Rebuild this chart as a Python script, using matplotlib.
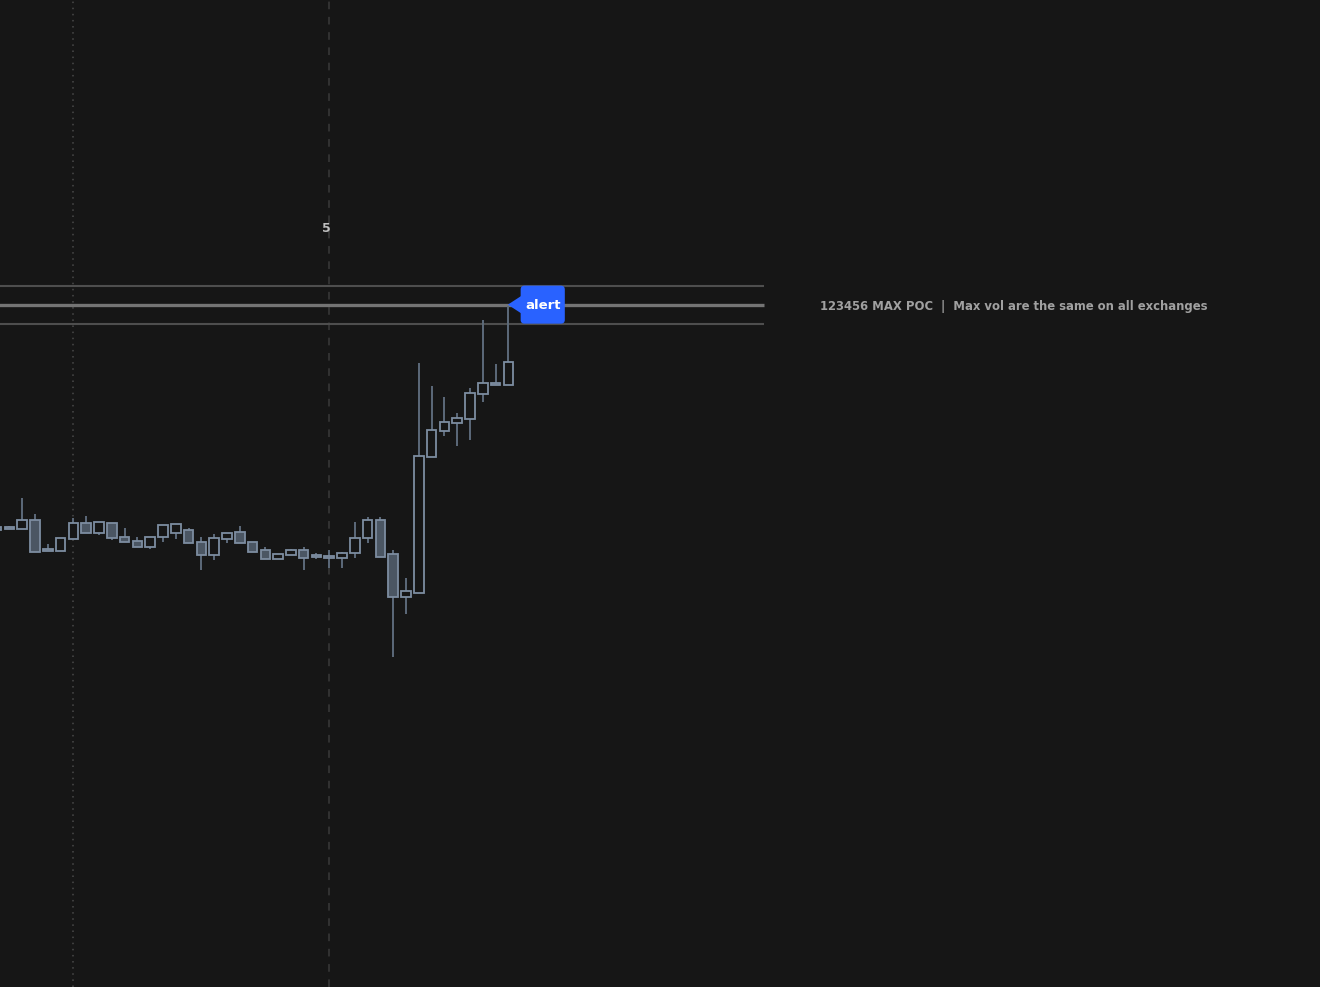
import numpy as np
import matplotlib
matplotlib.use("Agg")
import matplotlib.pyplot as plt
from matplotlib.patches import Rectangle, FancyBboxPatch, Polygon

# candle OHLC (price units)
opens = [45.7, 46.0, 45.8, 46.7, 43.8, 43.6, 44.8, 46.4, 45.4, 46.4, 45.0, 44.6, 44.0, 45.0,
         45.4, 45.7, 44.5, 43.2, 44.8, 45.5, 44.5, 43.7, 42.8, 43.2, 43.7, 43.1, 43.0, 42.9,
         43.4, 44.9, 46.7, 43.3, 39.0, 39.4, 53.0, 55.6, 56.4, 56.8, 59.3, 60.4, 60.2]
highs = [46.1, 46.1, 48.9, 47.3, 44.3, 44.9, 46.9, 47.1, 46.5, 46.4, 45.9, 45.0, 45.0, 46.2,
         46.3, 45.9, 45.0, 45.3, 45.4, 46.1, 44.5, 44.0, 43.3, 43.8, 44.0, 43.4, 43.7, 43.5,
         46.5, 47.0, 47.0, 43.7, 40.9, 62.4, 60.1, 59.0, 57.4, 59.9, 66.7, 62.3, 68.1]
lows = [45.6, 45.8, 45.8, 43.5, 43.6, 43.6, 44.8, 45.4, 45.2, 44.7, 44.5, 44.0, 43.8, 44.5,
        44.8, 44.4, 41.7, 42.7, 44.4, 44.4, 43.5, 42.8, 42.8, 43.2, 41.7, 42.8, 41.9, 41.9,
        42.9, 44.4, 43.0, 33.0, 37.3, 39.4, 53.0, 55.1, 54.1, 54.7, 58.5, 60.2, 60.2]
closes = [46.0, 45.8, 46.7, 43.5, 43.6, 44.9, 46.4, 45.4, 46.5, 44.9, 44.5, 44.0, 45.0, 46.2,
          46.3, 44.4, 43.2, 44.9, 45.4, 44.4, 43.5, 42.8, 43.3, 43.7, 42.9, 43.0, 42.9, 43.4,
          44.9, 46.7, 43.0, 39.0, 39.6, 53.1, 55.7, 56.5, 56.9, 59.4, 60.4, 60.2, 62.5]

# levels
poc_level = 68.2
band_upper = 70.1
band_lower = 66.3
level_end = 60          # bar index where the level lines stop
session_marks = [6, 26]  # bar indices of the vertical separators
session_label = "5"
poc_text = "123456 MAX POC  |  Max vol are the same on all exchanges"
alert_text = "alert"

bg = "#161616"
edge = "#7d8da1"
fill_dn = "#4b5663"
wick_c = "#5c6a7a"
blue = "#2962ff"

fig = plt.figure(figsize=(13.2, 9.875), dpi=100)
fig.patch.set_facecolor(bg)
ax = fig.add_axes([0, 0, 1, 1])
ax.set_facecolor(bg)
ax.set_xlim(0.273, 103.40)
ax.set_ylim(0.0, 98.7)
ax.axis("off")

# session separators
ax.axvline(session_marks[0], color="#4a4a4a", lw=1.1, ls=(0, (1, 3)), zorder=1)
ax.axvline(session_marks[1], color="#3a3a3a", lw=1.1, ls=(0, (5, 5)), zorder=1)
ax.text(session_marks[1] - 0.2, 75.9, session_label, color="#bdbdbd", fontsize=9,
        fontweight="bold", ha="center", va="center")

# level lines
ax.hlines([band_upper, band_lower], -1, level_end, color="#4e4e4e", lw=1.5, zorder=2)
ax.hlines(poc_level, -1, level_end, color="#747474", lw=2.4, zorder=2)

# candles
w = 0.75
for i, (o, h, l, c) in enumerate(zip(opens, highs, lows, closes)):
    ax.vlines(i, l, h, color=wick_c, lw=1.4, zorder=3)
    bot = min(o, c)
    hgt = max(abs(c - o), 0.15)
    fc = bg if c >= o else fill_dn
    ax.add_patch(Rectangle((i - w / 2, bot), w, hgt, facecolor=fc, edgecolor=edge,
                           lw=1.3, zorder=4))

# alert label attached to the last bar
last = len(closes) - 1
bx0 = last + 0.95
bw = 3.45
bh = 3.8
ax.add_patch(Polygon([[last - 0.05, poc_level], [bx0 + 0.2, poc_level + 1.0],
                      [bx0 + 0.2, poc_level - 1.0]], closed=True, facecolor=blue,
                     edgecolor="none", zorder=5))
ax.add_patch(FancyBboxPatch((bx0, poc_level - bh / 2), bw, bh,
                            boxstyle="round,pad=0,rounding_size=0.3",
                            mutation_aspect=1.28, facecolor=blue, edgecolor="none", zorder=5))
ax.text(bx0 + bw / 2, poc_level, alert_text, color="white", fontsize=9.5,
        fontweight="bold", ha="center", va="center", zorder=6)

ax.text(64.3, poc_level - 0.1, poc_text, color="#a0a0a0", fontsize=8.4,
        fontweight="bold", ha="left", va="center")

fig.savefig("out.png", dpi=100, facecolor=bg)
